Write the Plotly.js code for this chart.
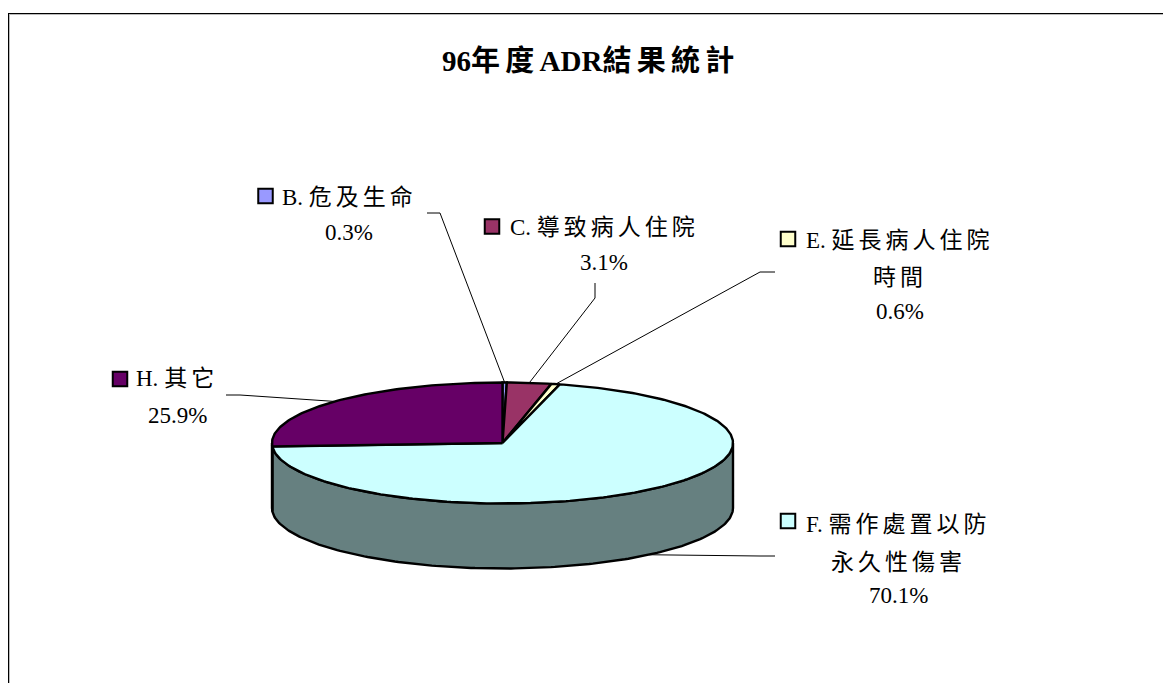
<!DOCTYPE html>
<html><head><meta charset="utf-8">
<script src="https://cdn.plot.ly/plotly-3.0.1.min.js"></script>
<style>html,body{margin:0;padding:0;background:#fff;overflow:hidden}#c{width:1163px;height:683px}</style>
</head><body><div id="c"></div>
<script>
// Data, in drawing order (clockwise from 12 o'clock)
const categories = ['B. 危及生命','C. 導致病人住院','E. 延長病人住院時間','F. 需作處置以防永久性傷害','H. 其它'];
const values = [0.3, 3.1, 0.6, 70.1, 25.9];
const titleText = '96年度ADR結果統計';
const prefixes = ['B.','C.','E.','F.','H.'];
const nameLines = [['危及生命'],['導致病人住院'],['延長病人住院','時間'],['需作處置以防','永久性傷害'],['其它']];
const topColors = ['#9999FF','#993366','#FFFFCC','#CCFFFF','#660066'];
const wallColors = ['#4D4D80','#4D1A33','#808066','#668080','#330033'];

// Layout of the drawing
const C = {cx:502.5, cy:443, rx:230.5, ry:60.5, depth:65};
const SERIF = '"Liberation Serif","Noto Sans CJK TC",serif';
const labelCfg = [
  {x:349, y:[197,232], key:[265.5,196], leader:[[427,213],[440,213]]},
  {x:604, y:[227,262], key:[492,226.5], leader:[[595,283],[595,298]]},
  {x:900, y:[240,277,311], key:[788,239], leader:[[775,272],[760,272]]},
  {x:898, y:[524,562,595], key:[788,521], leader:[[775,556],[760,556]]},
  {x:177, y:[378,415], key:[120,379], leader:[[226,395],[240,395]]}
];

const total = values.reduce((a,b)=>a+b,0);
const pt = (deg,dz=0)=>{const r=deg*Math.PI/180;return [C.cx+C.rx*Math.sin(r), C.cy-C.ry*Math.cos(r)+dz];};
const arc = (a,b,dz=0)=>{const n=Math.max(2,Math.ceil(Math.abs(b-a)));const o=[];for(let i=0;i<=n;i++)o.push(pt(a+(b-a)*i/n,dz));return o;};
const poly = (pts,fill,name)=>({type:'scatter',mode:'lines',x:pts.map(p=>p[0]),y:pts.map(p=>p[1]),fill:'toself',fillcolor:fill,
  line:{color:'#000',width:2.4,shape:'linear'},hoverinfo:'skip',showlegend:false,name});

let start=0; const spans=values.map(v=>{const s=start;start+=v/total*360;return [s,start];});

const traces=[];
// leader lines go underneath the pie body
spans.forEach(([a,b],i)=>{
  const mid=(a+b)/2, dz=(mid>90&&mid<270)?C.depth:0, end=pt(mid,dz), L=labelCfg[i].leader;
  const pts=[L[0],L[1],end];
  traces.push({type:'scatter',mode:'lines',x:pts.map(p=>p[0]),y:pts.map(p=>p[1]),line:{color:'#000',width:1},hoverinfo:'skip',showlegend:false});
});
// walls: only the front half of the rim shows
spans.forEach(([a,b],i)=>{
  const s=Math.max(a,90), e=Math.min(b,270);
  if(e<=s) return;
  traces.push(poly(arc(s,e).concat(arc(e,s,C.depth)).concat([pt(s)]),wallColors[i],categories[i]+' wall'));
});
// top faces
spans.forEach(([a,b],i)=>{
  traces.push(poly([[C.cx,C.cy]].concat(arc(a,b)).concat([[C.cx,C.cy]]),topColors[i],categories[i]));
});
// legend keys
traces.push({type:'scatter',mode:'markers',x:labelCfg.map(l=>l.key[0]),y:labelCfg.map(l=>l.key[1]),
  marker:{symbol:'square',size:14.5,color:topColors,line:{color:'#000',width:2}},hoverinfo:'skip',showlegend:false});

const annotations=[];
const sp=(t,ls)=>`<span style="letter-spacing:${ls}px">${t}</span>`;
labelCfg.forEach((l,i)=>{
  const lines=nameLines[i].map((t,j)=>(j===0?prefixes[i]+' ':'')+sp(t,4));
  lines.push(values[i].toFixed(1)+'%');
  lines.forEach((t,j)=>annotations.push({x:l.x,y:l.y[j],xref:'x',yref:'y',text:t,showarrow:false,xanchor:'center',yanchor:'middle',
    font:{family:SERIF,size:23,color:'#000'}}));
});
const titleHtml=titleText.replace(/[^\x00-\x7F]+/g,m=>sp(m,5.3));
annotations.push({x:591,y:61,xref:'x',yref:'y',showarrow:false,xanchor:'center',yanchor:'middle',
  text:`<b>${titleHtml}</b>`,font:{family:SERIF,size:29,color:'#000'}});

const layout={width:1163,height:683,margin:{l:0,r:0,t:0,b:0},paper_bgcolor:'#fff',plot_bgcolor:'#fff',showlegend:false,
  xaxis:{range:[0,1163],visible:false,fixedrange:true},
  yaxis:{range:[683,0],visible:false,fixedrange:true},
  annotations,
  shapes:[
    {type:'line',xref:'x',yref:'y',x0:8.5,x1:1163,y0:14.5,y1:14.5,line:{color:'#BBB',width:1}},
    {type:'line',xref:'x',yref:'y',x0:9.5,x1:9.5,y0:14,y1:683,line:{color:'#BBB',width:1}},
    {type:'line',xref:'x',yref:'y',x0:8,x1:1163,y0:13.5,y1:13.5,line:{color:'#000',width:1}},
    {type:'line',xref:'x',yref:'y',x0:8.5,x1:8.5,y0:13,y1:683,line:{color:'#000',width:1}}
  ]};
Plotly.newPlot('c',traces,layout,{displayModeBar:false,staticPlot:true});
</script></body></html>
